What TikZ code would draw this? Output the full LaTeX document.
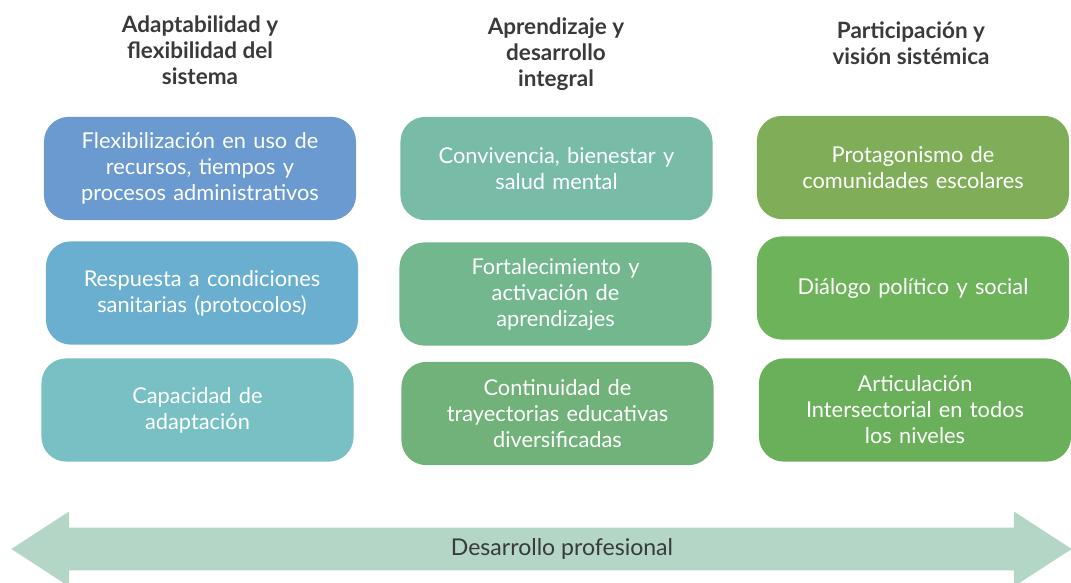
\documentclass[tikz,border=0pt]{standalone}
\usepackage{fontspec}
\setmainfont{Lato}
\usepackage{tikz}
\usetikzlibrary{shapes.arrows}
\definecolor{headgray}{HTML}{3A3A3A}
\definecolor{boxA}{HTML}{6A9AD0}
\definecolor{boxB}{HTML}{6AAFD0}
\definecolor{boxC}{HTML}{78C0C4}
\definecolor{boxD}{HTML}{78BCA8}
\definecolor{boxE}{HTML}{72B78E}
\definecolor{boxF}{HTML}{70B27A}
\definecolor{boxG}{HTML}{80AD58}
\definecolor{boxH}{HTML}{6DB35A}
\definecolor{boxI}{HTML}{6AB05A}
\definecolor{arrowfill}{HTML}{B3D6C6}
\tikzset{
    box/.style={rounded corners=0.62cm, minimum width=7.8cm, minimum height=2.58cm,
        text width=7.4cm, align=center, text=white, font=\fontsize{15.5}{18.5}\selectfont},
    head/.style={align=center, text=headgray, font=\bfseries\fontsize{16}{18.5}\selectfont}
}

\begin{document}
\begin{tikzpicture}[x=0.025cm, y=-0.025cm]
            \useasboundingbox (0, 0) rectangle (1071, 583);
            
            \node [head] (h1) at (200, 50) {Adaptabilidad y\\flexibilidad del\\sistema};
            \node [head] (h2) at (556, 54) {Aprendizaje y\\desarrollo\\integral};
            \node [head] (h3) at (911, 43) {Participación y\\visión sistémica};
            
            \node [box, fill=boxA] (a1) at (200, 168.5) {Flexibilización en uso de\\recursos, tiempos y\\procesos administrativos};
            \node [box, fill=boxB] (a2) at (202, 293) {Respuesta a condiciones\\sanitarias (protocolos)};
            \node [box, fill=boxC] (a3) at (197.5, 410) {Capacidad de\\adaptación};
            \node [box, fill=boxD] (b1) at (556.5, 168.5) {Convivencia, bienestar y\\salud mental};
            \node [box, fill=boxE] (b2) at (555.5, 294) {Fortalecimiento y\\activación de\\aprendizajes};
            \node [box, fill=boxF] (b3) at (557.5, 413.5) {Continuidad de\\trayectorias educativas\\diversificadas};
            \node [box, fill=boxG] (c1) at (913, 167.5) {Protagonismo de\\comunidades escolares};
            \node [box, fill=boxH] (c2) at (913, 288) {Diálogo político y social};
            \node [box, fill=boxI] (c3) at (915, 410) {Articulación\\Intersectorial en todos\\los niveles};
            
            \node [double arrow, fill=arrowfill, minimum height=26.5cm, inner xsep=0pt, inner ysep=0.53cm,
                double arrow head extend=0.4cm, double arrow tip angle=66] (dp) at (541.5, 549) {};
            \node [text=headgray, font=\fontsize{16.4}{18}\selectfont] (dplabel) at (562, 549) {Desarrollo profesional};
        \end{tikzpicture}
\end{document}
